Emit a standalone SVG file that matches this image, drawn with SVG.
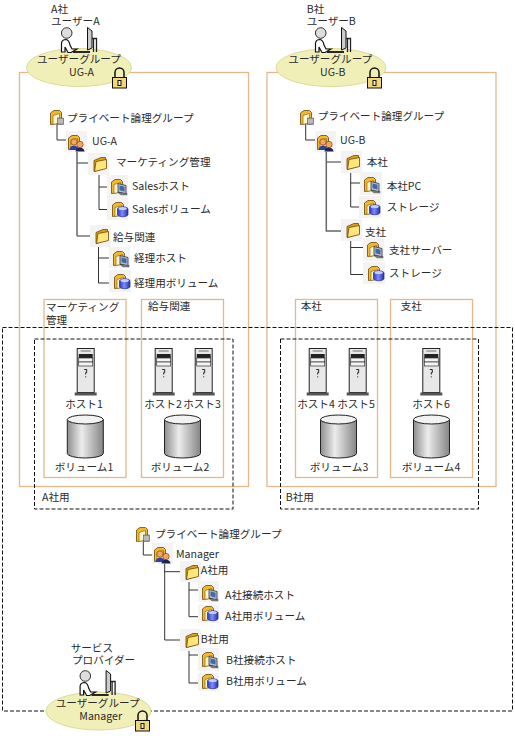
<svg xmlns="http://www.w3.org/2000/svg" width="515" height="736" viewBox="0 0 515 736">
<style>
text{font-family:"Noto Sans CJK JP","Liberation Sans",sans-serif;font-size:10.6px;fill:#2a2a2a}
.m{text-anchor:middle}
.o{fill:none;stroke:#e5b88c;stroke-width:1.3}
.d{fill:none;stroke:#111;stroke-width:1;stroke-dasharray:4 2}
.e{fill:#f1efb8;stroke:#dcdb96;stroke-width:1}
.t{fill:#f3f3f3}
.c{fill:none;stroke:#333;stroke-width:1}
.tr{fill:none;stroke:#666;stroke-width:1.5}
</style>
<defs>
<linearGradient id="cy" x1="0" x2="1" y1="0" y2="0"><stop offset="0" stop-color="#8e8e8e"/><stop offset=".4" stop-color="#ececec"/><stop offset="1" stop-color="#858585"/></linearGradient>
<linearGradient id="ball" x1="0" x2="1" y1="0" y2="0"><stop offset="0" stop-color="#2c38c0"/><stop offset=".45" stop-color="#7f8cf5"/><stop offset="1" stop-color="#2430b0"/></linearGradient>
<g id="fold"><path d="M1 3.500 L8 .5 L12.500 .5 V11 L1 14.500z" fill="#e0a018" stroke="#6b4a08" stroke-width=".8"/><path d="M3 4.500 L13.500 2.500 V11.500 L1.500 14.500z" fill="#ffe67a" stroke="#6b4a08" stroke-width=".8"/></g>
<g id="back"><path d="M.5 14.500 V3 L4 .5 H9.500 L11.500 2.500 V13z" fill="#f2b92e" stroke="#7a5810" stroke-width=".9"/><path d="M3 5.500 L9.500 3.500 V13 L3 14.500z" fill="#fff6cf" stroke="#8a6a18" stroke-width=".7"/></g>
<g id="pfold"><use href="#back"/><rect x="7.500" y="8" width="6" height="6.500" fill="#a0a0a0" stroke="#555" stroke-width=".6"/><path d="M8 10H13M8 12H13" stroke="#eee" stroke-width=".7"/></g>
<g id="ugf"><use href="#back"/><circle cx="6" cy="7" r="3.200" fill="#f2a65e" stroke="#703010" stroke-width=".6"/><path d="M1.500 15 Q2 10.500 6 10.500 Q10 10.500 10.500 15z" fill="#3040a0"/><circle cx="12" cy="9.500" r="3.200" fill="#f2a65e" stroke="#703010" stroke-width=".6"/><path d="M7.500 16.500 Q8 12.800 12 12.800 Q16 12.800 16.500 16.500z" fill="#1c2450"/></g>
<g id="hf"><use href="#back"/><path d="M7 4.500 L15 6.500 V15 L7 13z" fill="#b8bcd0" stroke="#333" stroke-width=".8"/><path d="M8.500 6.500 L13.500 7.800 V12.500 L8.500 11.200z" fill="#3a6aa8"/><path d="M7 13.500 L10 15.800 H16 V14.500z" fill="#888" stroke="#333" stroke-width=".5"/></g>
<g id="vf"><use href="#back"/><path d="M5.500 6.500 A5.500 2.500 0 0 1 16 6.500 V13 A5.500 2.500 0 0 1 5.500 13z" fill="url(#ball)" stroke="#1c2aa0" stroke-width=".7"/><ellipse cx="10.700" cy="6.500" rx="4.200" ry="1.600" fill="#c4ccff"/></g>
<g id="srv"><rect x="-8.500" y="-47" width="17" height="44" fill="#e8e8e8" stroke="#222"/><path d="M-5 -44.500H5" stroke="#999" stroke-width="1.500"/><rect x="-7" y="-41.500" width="14" height="4" fill="#222"/><rect x="-7" y="-37.500" width="14" height="4" fill="#f4f4f4" stroke="#333" stroke-width=".7"/><rect x="-7" y="-33.500" width="14" height="4" fill="#f4f4f4" stroke="#333" stroke-width=".7"/><path d="M-1.500 -26H1V-23H0V-21" fill="none" stroke="#222"/><path d="M0 -19.500V-18" stroke="#2a8a2a"/><rect x="-11" y="-3" width="22" height="3" fill="#555"/></g>
<g id="cyl"><path d="M-18 4.500V38.500A18 4.500 0 0 0 18 38.500V4.500z" fill="url(#cy)" stroke="#222"/><ellipse cx="0" cy="4.500" rx="18" ry="4.500" fill="#f2f2f2" stroke="#222"/></g>
<g id="usr"><circle cx="6.700" cy="6" r="5.300" fill="#ddd" stroke="#333"/><path d="M1.500 25 V16 Q2 12.500 6 12.500 Q9 13 10 18 L12 22 H17 L11 25.500 H8 L5 20 V25z" fill="#fff" stroke="#111" stroke-width="1.200"/><path d="M13 25H30" stroke="#111" stroke-width="1.800"/><path d="M27.500 .5 L32 4 V21 L27.500 23z" fill="#ccc" stroke="#111"/><path d="M32 11.500H36.500V25M33.500 12V25" fill="none" stroke="#222" stroke-width="1.300"/></g>
<g id="lck"><path d="M3 10V5.500A4.500 4.500 0 0 1 12 5.500V10" fill="none" stroke="#111" stroke-width="1.500"/><rect x=".5" y="10.500" width="14" height="10.500" fill="#f0d878" stroke="#111"/><rect x="6" y="13.500" width="3" height="5" fill="#f8f0c0" stroke="#111"/></g>
</defs>
<g id="boxes">
<rect class="o" x="19.500" y="72.500" width="229" height="414"/>
<rect class="o" x="267" y="72.500" width="229" height="414"/>
<rect class="o" x="44" y="299.500" width="82" height="178"/>
<rect class="o" x="141.500" y="299.500" width="82" height="178"/>
<rect class="o" x="295.500" y="299.500" width="82" height="178"/>
<rect class="o" x="390.500" y="299.500" width="82" height="178"/>
<rect class="d" x="2.500" y="327.500" width="510" height="383.500"/>
<rect class="d" x="34.500" y="339" width="198.500" height="170"/>
<rect class="d" x="280.500" y="339" width="198" height="170"/>
</g>
<g id="connectors">
<path class="c" d="M57 124V140H68M77 163H93M77 236H91M99 175V209.500H108M99 187H108M98.500 247V283H109M98.500 258H109"/>
<path class="tr" d="M77 152V236"/>
<path class="c" d="M305.700 124V140H315M326.300 162H341M350.700 173V207H360M350.700 183H360M350.700 241V274.500H363M350.700 247.500H363"/>
<path class="tr" d="M326.300 152V231H341"/>
<path class="c" d="M143.300 541V555H153M164.700 564V640H180M164.700 571.700H180M189 582V616.700H198M189 590H198M189 651V683H198M189 655H198"/>
</g>
<g id="user-a"><text x="51" y="13">A社<tspan x="51" y="25">ユーザーA</tspan></text></g>
<g id="group-a"><ellipse class="e" cx="79" cy="67.500" rx="52.500" ry="19"/><use href="#usr" x="60" y="27"/><text x="37" y="63">ユーザーグループ<tspan x="69" y="76">UG-A</tspan></text><use href="#lck" x="112" y="67"/></g>
<g id="user-b"><text x="306.700" y="13">B社<tspan x="306.700" y="25">ユーザーB</tspan></text></g>
<g id="group-b"><ellipse class="e" cx="331" cy="67.500" rx="55" ry="19"/><use href="#usr" x="314" y="27"/><text x="288.300" y="63">ユーザーグループ<tspan x="320" y="76">UG-B</tspan></text><use href="#lck" x="367" y="67"/></g>
<g id="user-m"><text x="70.700" y="651.700">サービス<tspan x="72" y="664">プロバイダー</tspan></text></g>
<g id="group-m"><ellipse class="e" cx="98.500" cy="711" rx="52.500" ry="19"/><use href="#usr" x="78.600" y="670"/><text x="55.700" y="707">ユーザーグループ<tspan x="79.300" y="720">Manager</tspan></text><use href="#lck" x="135" y="710"/></g>
<g id="tree-a-root"><use href="#pfold" x="50" y="110"/><text x="67" y="122">プライベート論理グループ</text></g>
<g id="tree-a-ug"><rect class="t" x="66" y="131" width="21" height="21"/><use href="#ugf" x="68" y="135"/><text x="92" y="144.700">UG-A</text></g>
<g id="tree-a-mkt"><rect class="t" x="88" y="153" width="21" height="22"/><use href="#fold" x="93" y="157"/><text x="116" y="166">マーケティング管理</text></g>
<g id="tree-a-sh"><rect class="t" x="107" y="175" width="21" height="22"/><use href="#hf" x="111" y="179"/><text x="132" y="190">Salesホスト</text></g>
<g id="tree-a-sv"><rect class="t" x="107" y="197" width="21" height="23"/><use href="#vf" x="112" y="202"/><text x="132" y="213">Salesボリューム</text></g>
<g id="tree-a-pay"><rect class="t" x="90" y="225" width="21" height="22"/><use href="#fold" x="95" y="229"/><text x="113" y="241">給与関連</text></g>
<g id="tree-a-ph"><rect class="t" x="109" y="247" width="21" height="21"/><use href="#hf" x="113" y="251"/><text x="134" y="262">経理ホスト</text></g>
<g id="tree-a-pv"><rect class="t" x="109" y="270" width="22" height="22"/><use href="#vf" x="114" y="274"/><text x="134" y="287">経理用ボリューム</text></g>
<g id="tree-b-root"><use href="#pfold" x="300" y="110"/><text x="317.700" y="120">プライベート論理グループ</text></g>
<g id="tree-b-ug"><rect class="t" x="315" y="131" width="21" height="21"/><use href="#ugf" x="317" y="135"/><text x="340" y="144">UG-B</text></g>
<g id="tree-b-hq"><rect class="t" x="341" y="151" width="21" height="22"/><use href="#fold" x="346" y="155"/><text x="366.700" y="165.700">本社</text></g>
<g id="tree-b-hh"><rect class="t" x="360" y="172" width="22" height="23"/><use href="#hf" x="364" y="177"/><text x="386.700" y="190">本社PC</text></g>
<g id="tree-b-hv"><rect class="t" x="359" y="196" width="22" height="22"/><use href="#vf" x="364" y="200"/><text x="386.700" y="211">ストレージ</text></g>
<g id="tree-b-br"><rect class="t" x="341" y="219" width="21" height="22"/><use href="#fold" x="346" y="223"/><text x="365" y="235.700">支社</text></g>
<g id="tree-b-bh"><rect class="t" x="363" y="238" width="21" height="23"/><use href="#hf" x="367" y="242"/><text x="389" y="254">支社サーバー</text></g>
<g id="tree-b-bv"><rect class="t" x="363" y="262" width="22" height="22"/><use href="#vf" x="368" y="266"/><text x="389" y="277">ストレージ</text></g>
<g id="tree-m-root"><use href="#pfold" x="136" y="527"/><text x="155" y="537.700">プライベート論理グループ</text></g>
<g id="tree-m-ug"><rect class="t" x="152" y="543" width="21" height="21"/><use href="#ugf" x="154" y="547"/><text x="176" y="557.700">Manager</text></g>
<g id="tree-m-a"><rect class="t" x="180" y="561" width="21" height="21"/><use href="#fold" x="185" y="565"/><text x="200.700" y="574.300">A社用</text></g>
<g id="tree-m-ah"><rect class="t" x="198" y="581" width="21" height="21"/><use href="#hf" x="202" y="585"/><text x="225" y="599">A社接続ホスト</text></g>
<g id="tree-m-av"><rect class="t" x="198" y="605" width="21" height="18"/><use href="#vf" x="202" y="606"/><text x="225" y="620">A社用ボリューム</text></g>
<g id="tree-m-b"><rect class="t" x="180" y="629" width="21" height="22"/><use href="#fold" x="185" y="633"/><text x="200.700" y="643.300">B社用</text></g>
<g id="tree-m-bh"><rect class="t" x="198" y="648" width="21" height="23"/><use href="#hf" x="202" y="652"/><text x="226" y="664">B社接続ホスト</text></g>
<g id="tree-m-bv"><rect class="t" x="198" y="673" width="21" height="18"/><use href="#vf" x="202" y="674"/><text x="226" y="685">B社用ボリューム</text></g>
<g id="labels">
<text x="46" y="310.700">マーケティング<tspan x="46" y="324.300">管理</tspan></text><text x="148" y="310">給与関連</text><text x="300.700" y="310">本社</text><text x="400.700" y="310">支社</text><text x="42" y="500.700">A社用</text><text x="285.700" y="500.700">B社用</text>
</g>
<g id="host1"><use href="#srv" x="85.700" y="395.500"/><text class="m" x="84" y="407.700">ホスト1</text></g>
<g id="host2"><use href="#srv" x="163.700" y="395.500"/><text class="m" x="163" y="407.700">ホスト2</text></g>
<g id="host3"><use href="#srv" x="203.700" y="395.500"/><text class="m" x="202" y="407.700">ホスト3</text></g>
<g id="host4"><use href="#srv" x="317.700" y="395.500"/><text class="m" x="316" y="407.700">ホスト4</text></g>
<g id="host5"><use href="#srv" x="357.700" y="395.500"/><text class="m" x="356" y="407.700">ホスト5</text></g>
<g id="host6"><use href="#srv" x="431.300" y="395.500"/><text class="m" x="431" y="407.700">ホスト6</text></g>
<g id="vol1"><use href="#cyl" x="85.300" y="415"/><text class="m" x="84" y="471">ボリューム1</text></g>
<g id="vol2"><use href="#cyl" x="182.500" y="415"/><text class="m" x="180" y="471">ボリューム2</text></g>
<g id="vol3"><use href="#cyl" x="338.500" y="415"/><text class="m" x="339" y="471">ボリューム3</text></g>
<g id="vol4"><use href="#cyl" x="431.500" y="415"/><text class="m" x="431" y="471">ボリューム4</text></g>
</svg>
